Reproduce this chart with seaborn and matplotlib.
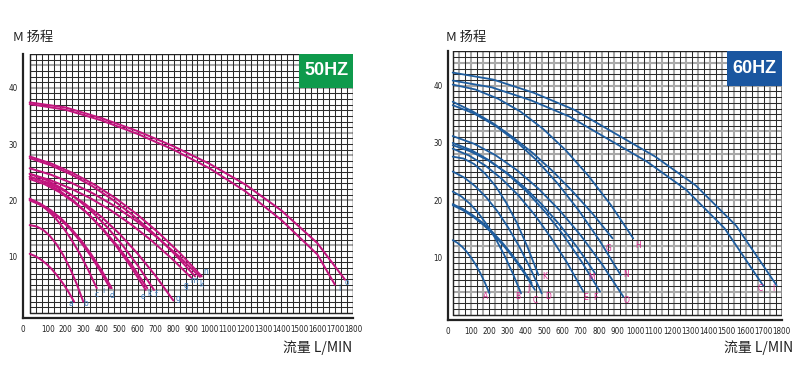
import numpy as np
import pandas as pd
import matplotlib
matplotlib.use("Agg")
import matplotlib.pyplot as plt
import seaborn as sns
from matplotlib.patches import Rectangle

# ---------------- 50HZ data (flow L/MIN, head M) ----------------
names_50 = ['a', 'b', 'c', 'j', 'd', 'e', 'k', 'f', 'g', 'g2', 'm', 'k2', 'n', 'i', 'o']
q_50 = [
    [0, 31, 62, 93, 124, 154, 185, 216, 247],
    [0, 37, 75, 112, 149, 186, 224, 261, 298],
    [0, 47, 93, 140, 187, 233, 280, 326, 373],
    [0, 56, 112, 168, 224, 279, 335, 391, 447],
    [0, 57, 114, 171, 228, 285, 342, 399, 456],
    [0, 81, 161, 242, 323, 403, 484, 564, 645],
    [0, 82, 164, 245, 327, 409, 491, 572, 654],
    [0, 86, 173, 259, 346, 432, 518, 605, 691],
    [0, 100, 200, 300, 400, 499, 599, 699, 799],
    [0, 113, 225, 338, 451, 563, 676, 788, 901],
    [0, 115, 230, 345, 460, 575, 690, 805, 920],
    [0, 118, 237, 355, 474, 592, 710, 829, 947],
    [0, 120, 239, 359, 479, 598, 718, 837, 957],
    [0, 200, 400, 600, 800, 1000, 1200, 1400, 1600, 1698],
    [0, 200, 400, 600, 800, 1000, 1200, 1400, 1600, 1754],
]
h_50 = [
    [10.5, 10.09, 9.49, 8.71, 7.74, 6.58, 5.24, 3.72, 2.0],
    [15.6, 15.38, 14.75, 13.68, 12.2, 10.3, 7.95, 5.18, 2.0],
    [20.3, 19.54, 18.41, 16.95, 15.13, 12.97, 10.46, 7.61, 4.4],
    [20.0, 19.25, 18.14, 16.71, 14.93, 12.81, 10.34, 7.55, 4.4],
    [20.2, 19.44, 18.32, 16.87, 15.07, 12.92, 10.42, 7.59, 4.4],
    [24.2, 23.24, 21.81, 19.96, 17.67, 14.93, 11.76, 8.16, 4.1],
    [23.8, 22.87, 21.49, 19.71, 17.5, 14.86, 11.79, 8.32, 4.4],
    [24.7, 23.71, 22.25, 20.35, 18.0, 15.2, 11.95, 8.26, 4.1],
    [24.2, 23.14, 21.58, 19.56, 17.05, 14.06, 10.58, 6.64, 2.2],
    [24.7, 23.61, 22.15, 20.37, 18.23, 15.75, 12.9, 9.73, 6.2],
    [27.5, 26.26, 24.6, 22.59, 20.15, 17.34, 14.1, 10.51, 6.5],
    [25.7, 24.56, 23.04, 21.18, 18.95, 16.36, 13.39, 10.09, 6.4],
    [27.8, 26.54, 24.86, 22.82, 20.35, 17.49, 14.21, 10.57, 6.5],
    [37.1, 36.1, 34.2, 31.8, 29.0, 25.7, 21.6, 16.5, 10.4, 5.0],
    [37.4, 36.5, 34.6, 32.3, 29.6, 26.5, 22.8, 18.2, 12.4, 5.9],
]
tags_50 = ['a', 'b', 'c', 'i', 'd', 'e', 'k', 'f', 'g', 'g', 'm', 'k', 'n', 'i', 'o']
tag_x_50 = [230, 313, 374, 412, 458, 632, 667, 705, 823, 872, 916, 957, 982, 1722, 1762]
tag_y_50 = [1.7, 1.7, 3.3, 3.9, 3.1, 3.0, 3.4, 3.3, 2.6, 4.9, 5.7, 5.0, 7.3, 4.3, 5.4]

# ---------------- 60HZ data ----------------
names_60 = ['A', 'B', 'J', 'C', 'D', 'K', 'E', 'F', 'M', 'O', 'N', 'G', 'H', 'C2', 'I']
q_60 = [
    [0, 25, 50, 75, 100, 126, 151, 176, 201],
    [0, 47, 94, 140, 187, 234, 281, 327, 374],
    [0, 54, 108, 162, 216, 270, 324, 378, 432],
    [0, 56, 113, 169, 225, 281, 338, 394, 450],
    [0, 61, 122, 183, 244, 304, 365, 426, 487],
    [0, 59, 117, 176, 235, 293, 352, 410, 469],
    [0, 89, 179, 268, 358, 447, 536, 626, 715],
    [0, 101, 202, 302, 403, 504, 605, 705, 806],
    [0, 97, 195, 292, 390, 487, 584, 682, 779],
    [0, 117, 234, 350, 467, 584, 701, 817, 934],
    [0, 115, 230, 345, 460, 574, 689, 804, 919],
    [0, 109, 219, 328, 438, 547, 656, 766, 875],
    [0, 124, 247, 371, 494, 618, 741, 865, 988],
    [0, 213, 425, 638, 850, 1063, 1275, 1488, 1700],
    [0, 222, 443, 665, 886, 1108, 1329, 1551, 1772],
]
h_60 = [
    [13.0, 12.55, 11.89, 11.04, 9.98, 8.71, 7.24, 5.58, 3.7],
    [21.5, 20.65, 19.38, 17.74, 15.71, 13.29, 10.48, 7.3, 3.7],
    [19.3, 18.49, 17.4, 16.07, 14.47, 12.62, 10.5, 8.14, 5.5],
    [19.1, 18.23, 17.06, 15.64, 13.92, 11.94, 9.66, 7.13, 4.3],
    [25.0, 23.98, 22.47, 20.51, 18.08, 15.18, 11.82, 8.0, 3.7],
    [27.6, 27.27, 26.31, 24.68, 22.43, 19.53, 15.96, 11.74, 6.9],
    [29.0, 27.8, 26.03, 23.73, 20.88, 17.48, 13.53, 9.05, 4.0],
    [30.0, 28.75, 26.91, 24.51, 21.55, 18.01, 13.91, 9.25, 4.0],
    [29.6, 28.52, 26.93, 24.87, 22.32, 19.27, 15.73, 11.72, 7.2],
    [31.2, 29.85, 27.86, 25.27, 22.07, 18.25, 13.81, 8.78, 3.1],
    [36.6, 35.17, 33.07, 30.33, 26.95, 22.91, 18.22, 12.9, 6.9],
    [37.2, 35.52, 33.47, 31.03, 28.24, 25.06, 21.52, 17.6, 13.3],
    [40.2, 39.34, 37.75, 35.47, 32.47, 28.74, 24.3, 19.16, 13.3],
    [40.9, 39.72, 37.49, 34.62, 30.67, 26.72, 21.87, 15.05, 5.0],
    [42.3, 41.07, 38.77, 35.79, 31.7, 27.61, 22.58, 15.52, 5.1],
]
tags_60 = ['A', 'B', 'J', 'C', 'D', 'K', 'E', 'F', 'M', 'O', 'N', 'G', 'H', 'C', 'I']
tag_x_60 = [182, 354, 417, 450, 520, 505, 728, 782, 757, 952, 946, 855, 1012, 1681, 1754]
tag_y_60 = [3.1, 3.2, 4.6, 2.5, 3.2, 6.6, 2.9, 2.9, 6.5, 2.4, 7.0, 11.5, 12.0, 4.5, 4.5]

x_ticks = list(range(100, 1900, 100))
y_ticks = [10, 20, 30, 40]
y_title = "M 扬程"
x_title = "流量 L/MIN"


def to_frame(names, qs, hs):
    rows = []
    for n, q, h in zip(names, qs, hs):
        for a, b in zip(q, h):
            rows.append((n, a, b))
    return pd.DataFrame(rows, columns=["pump", "flow", "head"])


sns.set_style("white")
plt.rcParams['font.family'] = ['Liberation Sans', 'DejaVu Sans']

fig = plt.figure(figsize=(8, 3.82), dpi=100)
W, H = 800, 382
axL = fig.add_axes([23 / W, 1 - 318 / H, (353.3 - 23) / W, (318 - 54) / H])
axR = fig.add_axes([448 / W, 1 - 320 / H, (781.7 - 448) / W, (320 - 51.4) / H])


def panel(ax, df, color, lw, xmin, ymin, ncols, alt, gray_rows, badge, badge_color,
          tags, tx, ty, tag_color):
    ax.set_xlim(xmin, 1800)
    ax.set_ylim(ymin, 46)
    top = 46
    for k in range(ncols + 1):
        x = 1800 * k / ncols
        g = alt and k % 2 == 1
        ax.plot([x, x], [0, top], color='#a8a8a8' if g else '#2b2b2b',
                lw=1.5 if g else 0.75, zorder=1, solid_capstyle='butt')
    for r in range(0, top + 1):
        g = r in gray_rows
        ax.plot([0, 1800], [r, r], color='#a8a8a8' if g else '#2b2b2b',
                lw=1.5 if g else 0.75, zorder=1 if not g else 0.9, solid_capstyle='butt')
    ax.plot([1800, 1800], [0, top], color='#222', lw=1.0, zorder=2)
    ax.plot([0, 1800], [top, top], color='#222', lw=1.0, zorder=2)
    ax.plot([0, 0], [0, top], color='#222', lw=1.0, zorder=2)
    ax.plot([0, 1800], [0, 0], color='#222', lw=1.0, zorder=2)

    sns.lineplot(data=df, x="flow", y="head", units="pump", estimator=None,
                 sort=False, color=color, lw=lw, ax=ax, zorder=3)

    for t, x, y in zip(tags, tx, ty):
        ax.text(x, y, t, fontsize=6, color=tag_color, ha='center', va='center',
                zorder=4, family=['DejaVu Sans'], fontstretch='condensed')

    ax.add_patch(Rectangle((1500, 40), 300, 6, facecolor=badge_color,
                           edgecolor='none', zorder=5))
    ax.text(1650, 43, badge, color='white', fontsize=13, fontweight='bold',
            ha='center', va='center', zorder=6, family=['Liberation Sans', 'DejaVu Sans'])

    for s in ['top', 'right']:
        ax.spines[s].set_visible(False)
    for s in ['left', 'bottom']:
        ax.spines[s].set_linewidth(1.6)
        ax.spines[s].set_color('#222')
    ax.set_xticks([xmin] + x_ticks)
    ax.set_xticklabels(['0'] + [str(v) for v in x_ticks])
    ax.set_yticks(y_ticks)
    ax.set_yticklabels([str(v) for v in y_ticks])
    ax.tick_params(axis='both', length=0, labelsize=6, colors='#222')
    ax.tick_params(axis='x', pad=5)
    ax.tick_params(axis='y', pad=4)
    for lab in ax.get_xticklabels() + ax.get_yticklabels():
        lab.set_fontfamily('DejaVu Sans')
        lab.set_fontstretch('condensed')
        lab.set_fontsize(5.8)
    ax.set_xlabel("")
    ax.set_ylabel("")
    if ax.get_legend():
        ax.get_legend().remove()


dfL = to_frame(names_50, q_50, h_50)
dfR = to_frame(names_60, q_60, h_60)

panel(axL, dfL, '#c2157e', 1.45, -37.3, -0.9, 54, False, [4, 12, 20, 28, 32, 40, 44],
      '50HZ', '#0e9a4c', tags_50, tag_x_50, tag_y_50, '#3f7cbc')
panel(axR, dfR, '#1f5d9e', 1.3, -25.7, -0.96, 55, True, [4, 12, 20, 28, 32, 40, 44],
      '60HZ', '#1a56a0', tags_60, tag_x_60, tag_y_60, '#d92a8e')

cjk = ['Noto Sans CJK SC', 'DejaVu Sans']
fig.text(13 / W, 1 - 37 / H, y_title, ha='left', va='center', fontsize=9.5,
         family=cjk, color='#222')
fig.text(446 / W, 1 - 37 / H, y_title, ha='left', va='center', fontsize=9.5,
         family=cjk, color='#222')
fig.text(352 / W, 1 - 348 / H, x_title, ha='right', va='center', fontsize=10,
         family=cjk, color='#222')
fig.text(793 / W, 1 - 348 / H, x_title, ha='right', va='center', fontsize=10,
         family=cjk, color='#222')

fig.savefig("out.png", dpi=100, facecolor='white')
